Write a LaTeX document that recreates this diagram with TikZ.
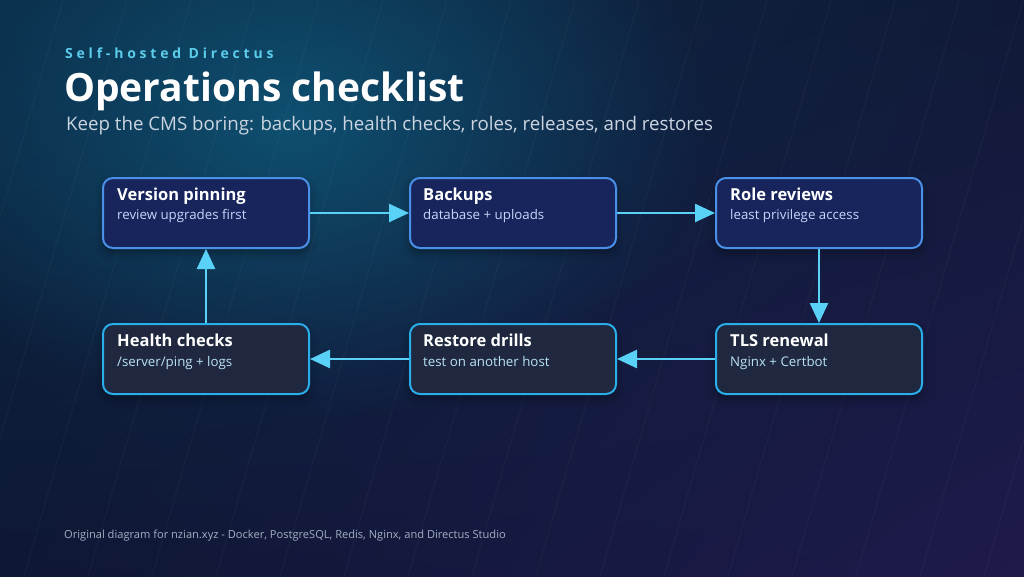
\documentclass[tikz,border=0pt]{standalone}
\usepackage{fontspec}
\setmainfont{Open Sans}
\usetikzlibrary{arrows.meta,fadings,shadings,shadows.blur}
\definecolor{bgUL}{HTML}{0A2A45}
\definecolor{bgUR}{HTML}{101A37}
\definecolor{bgLL}{HTML}{0E1733}
\definecolor{bgLR}{HTML}{1E1A4C}
\definecolor{glowc}{HTML}{0F5475}
\definecolor{topfill}{HTML}{18255C}
\definecolor{topedge}{HTML}{4A90E8}
\definecolor{botfill}{HTML}{1F283E}
\definecolor{botedge}{HTML}{2AAEEA}
\definecolor{arrowc}{HTML}{5AD2F8}
\definecolor{topsub}{HTML}{C7D5FB}
\definecolor{botsub}{HTML}{BAE3F8}
\definecolor{tagc}{HTML}{5BCDEB}
\definecolor{subc}{HTML}{CBD5E1}
\definecolor{footc}{HTML}{A3AEC2}
\tikzfading[name=glowfade, inner color=transparent!0, outer color=transparent!100]
\begin{document}
\begin{tikzpicture}[x=1pt,y=-1pt,
  card/.style={line width=2pt, rounded corners=10pt, minimum width=206pt, minimum height=70pt,
    anchor=north west, inner sep=0pt,
    blur shadow={shadow xshift=0pt, shadow yshift=-5pt, shadow blur radius=8pt, shadow opacity=35}},
  topbox/.style={card, draw=topedge, fill=topfill},
  botbox/.style={card, draw=botedge, fill=botfill},
  headtxt/.style={anchor=base west, inner sep=0pt, text=white, font=\bfseries\fontsize{16.5}{20}\selectfont},
  toptxt/.style={anchor=base west, inner sep=0pt, text=topsub, font=\fontsize{13.3}{16}\selectfont},
  bottxt/.style={anchor=base west, inner sep=0pt, text=botsub, font=\fontsize{13.3}{16}\selectfont},
  flow/.style={draw=arrowc, line width=2.5pt, -{Triangle[length=20pt,width=18pt]}},
  streak/.style={draw=white, opacity=0.045, line width=0.8pt}
]
\useasboundingbox (0,0) rectangle (1024,576);
% background
\shade[upper left=bgUL, upper right=bgUR, lower left=bgLL, lower right=bgLR] (0,0) rectangle (1024,576);
\fill[glowc, path fading=glowfade, opacity=0.9] (290,120) ellipse (420 and 300);
\begin{scope}
\clip (0,0) rectangle (1024,576);
\foreach \k in {0,...,18} {
  \draw[streak] ({63+64*\k},0) -- ({63+64*\k-167},576);
}
\end{scope}
% header
\node[anchor=base west, inner sep=0pt, text=tagc, font=\bfseries\fontsize{14}{16}\selectfont\addfontfeature{LetterSpace=27}] (tag) at (65,58) {Self-hosted Directus};
\node[anchor=base west, inner sep=0pt, text=white, font=\bfseries\fontsize{39}{46}\selectfont] (title) at (64,101) {Operations checklist};
\node[anchor=base west, inner sep=0pt, text=subc, font=\fontsize{18.7}{22}\selectfont] (subtitle) at (66,130) {Keep the CMS boring: backups, health checks, roles, releases, and restores};
% cards
\node[topbox] (v) at (102,177) {};
\node[topbox] (b) at (409,177) {};
\node[topbox] (r) at (715,177) {};
\node[botbox] (t) at (715,323) {};
\node[botbox] (s) at (409,323) {};
\node[botbox] (h) at (102,323) {};
\node[headtxt] (vh) at (117,200) {Version pinning};
\node[toptxt]  (vs) at (117,219) {review upgrades first};
\node[headtxt] (bh) at (423,200) {Backups};
\node[toptxt]  (bs) at (423,219) {database + uploads};
\node[headtxt] (rh) at (730,200) {Role reviews};
\node[toptxt]  (rs) at (730,219) {least privilege access};
\node[headtxt] (th) at (730,346) {TLS renewal};
\node[bottxt]  (ts) at (730,366) {Nginx + Certbot};
\node[headtxt] (sh) at (423,346) {Restore drills};
\node[bottxt]  (ss) at (423,366) {test on another host};
\node[headtxt] (hh) at (117,346) {Health checks};
\node[bottxt]  (hs) at (117,366) {/server/ping + logs};
% connectors
\draw[flow] (v.east) -- (b.west);
\draw[flow] (b.east) -- (r.west);
\draw[flow] (r.south) -- (t.north);
\draw[flow] (t.west) -- (s.east);
\draw[flow] (s.west) -- (h.east);
\draw[flow] (h.north) -- (v.south);
% footer
\node[anchor=base west, inner sep=0pt, text=footc, font=\fontsize{11.1}{13}\selectfont] (foot) at (64,538) {Original diagram for nzian.xyz - Docker, PostgreSQL, Redis, Nginx, and Directus Studio};
\end{tikzpicture}
\end{document}
